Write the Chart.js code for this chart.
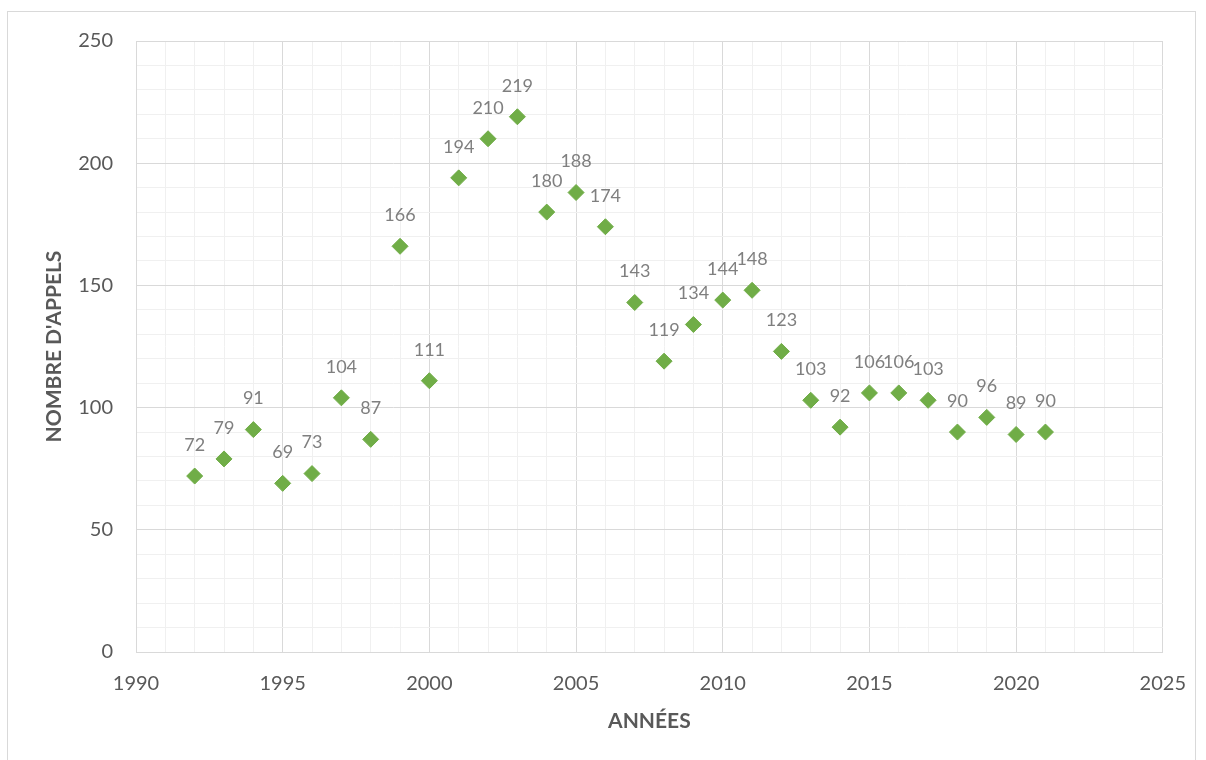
<!DOCTYPE html>
<html lang="fr">
<head>
    <meta charset="UTF-8">
    <title>Nombre d'appels par année</title>
    <script src="https://cdn.jsdelivr.net/npm/chart.js@4/dist/chart.umd.min.js"></script>
    <style>
        html, body { margin: 0; padding: 0; background: #fff; overflow: hidden; }
        #wrap { position: relative; width: 1206px; height: 760px; }
    </style>
</head>
<body>
<div id="wrap">
    <canvas id="myChart" width="1206" height="760"></canvas>
</div>

<script>
    // donnees
    const years = [1992, 1993, 1994, 1995, 1996, 1997, 1998, 1999, 2000, 2001,
                   2002, 2003, 2004, 2005, 2006, 2007, 2008, 2009, 2010, 2011,
                   2012, 2013, 2014, 2015, 2016, 2017, 2018, 2019, 2020, 2021];
    const appels = [72, 79, 91, 69, 73, 104, 87, 166, 111, 194,
                    210, 219, 180, 188, 174, 143, 119, 134, 144, 148,
                    123, 103, 92, 106, 106, 103, 90, 96, 89, 90];

    const xTitle = 'ANNÉES';
    const yTitle = "NOMBRE D'APPELS";

    const FONT = 'Lato, "Open Sans", sans-serif';
    const GREEN = '#70AD47';
    const MAJOR = '#d9d9d9';
    const MINOR = '#f0f0f0';

    let points = years.map(function (y, i) { return {x: y, y: appels[i]}; });

    // cadre exterieur du graphique (comme dans Excel)
    const frame = {
        id: 'frame',
        beforeDraw(chart) {
            const ctx = chart.ctx;
            ctx.save();
            ctx.fillStyle = '#fff';
            ctx.fillRect(0, 0, chart.width, chart.height);
            ctx.strokeStyle = MAJOR;
            ctx.lineWidth = 1;
            ctx.strokeRect(7.5, 11.5, 1188, 760);
            ctx.restore();
        }
    };

    // etiquettes de donnees au-dessus des losanges
    const valueLabels = {
        id: 'valueLabels',
        afterDatasetsDraw(chart) {
            const ctx = chart.ctx;
            const meta = chart.getDatasetMeta(0);
            ctx.save();
            ctx.font = '18px ' + FONT;
            ctx.fillStyle = '#7f7f7f';
            ctx.textAlign = 'center';
            ctx.textBaseline = 'middle';
            meta.data.forEach(function (pt, i) {
                ctx.fillText(String(appels[i]), pt.x, pt.y - 31);
            });
            ctx.restore();
        }
    };

    let ctx = document.getElementById('myChart');
    let myChart = new Chart(ctx, {
        type: 'scatter',
        data: {
            datasets: [{
                label: yTitle,
                data: points,
                pointStyle: 'rectRot',
                pointRadius: 8,
                pointHoverRadius: 8,
                backgroundColor: GREEN,
                borderColor: GREEN,
                borderWidth: 1
            }]
        },
        options: {
            responsive: false,
            animation: false,
            events: [],
            layout: { padding: { left: 0, right: 42, top: 41, bottom: 0 } },
            plugins: {
                legend: { display: false },
                tooltip: { enabled: false }
            },
            scales: {
                x: {
                    type: 'linear',
                    min: 1990,
                    max: 2025,
                    afterFit: function (scale) { scale.height = 108; },
                    border: { color: MAJOR, width: 1 },
                    grid: {
                        drawTicks: false,
                        color: function (c) { return c.tick.value % 5 === 0 ? MAJOR : MINOR; },
                        lineWidth: 1
                    },
                    ticks: {
                        stepSize: 1,
                        autoSkip: false,
                        maxRotation: 0,
                        padding: 20,
                        color: '#595959',
                        font: { family: FONT, size: 20 },
                        callback: function (v) { return v % 5 === 0 ? String(v) : ''; }
                    },
                    title: {
                        display: true,
                        text: xTitle,
                        color: '#595959',
                        font: { family: FONT, size: 21, weight: 'bold' },
                        padding: { top: 0, bottom: 26 }
                    }
                },
                y: {
                    min: 0,
                    max: 250,
                    afterFit: function (scale) { scale.width = 136; },
                    border: { color: MAJOR, width: 1 },
                    grid: {
                        drawTicks: false,
                        color: function (c) { return c.tick.value % 50 === 0 ? MAJOR : MINOR; },
                        lineWidth: 1
                    },
                    ticks: {
                        stepSize: 10,
                        autoSkip: false,
                        padding: 23,
                        color: '#595959',
                        font: { family: FONT, size: 20 },
                        callback: function (v) { return v % 50 === 0 ? String(v) : ''; }
                    },
                    title: {
                        display: true,
                        text: yTitle,
                        color: '#595959',
                        font: { family: FONT, size: 21, weight: 'bold' },
                        padding: { top: 42, bottom: 0 }
                    }
                }
            }
        },
        plugins: [frame, valueLabels]
    });
</script>
</body>
</html>
